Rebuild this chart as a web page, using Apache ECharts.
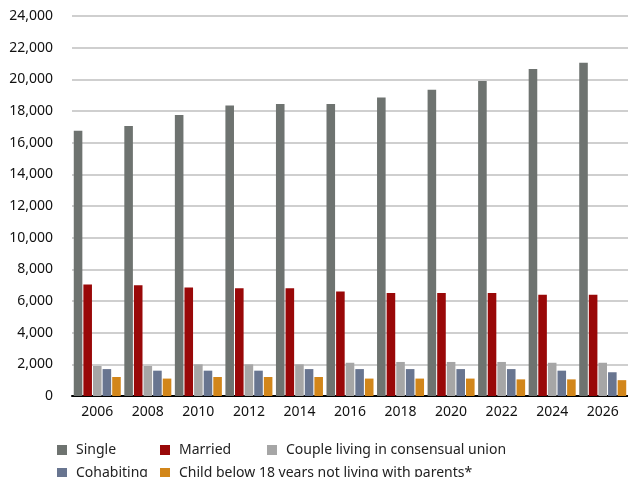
<!DOCTYPE html>
<html><head><meta charset="utf-8">
<script src="https://cdn.jsdelivr.net/npm/echarts@6/dist/echarts.min.js"></script>
<style>html,body{margin:0;padding:0;background:#fff}#c{width:628px;height:477px}</style>
</head><body><div id="c"></div>
<script>
const years = ['2006','2008','2010','2012','2014','2016','2018','2020','2022','2024','2026'];
const single = [16750,17050,17750,18350,18450,18450,18850,19350,19900,20650,21050];
const married = [7050,7000,6850,6800,6800,6600,6500,6500,6500,6400,6400];
const consensual = [1900,1900,2000,2000,2000,2100,2150,2150,2150,2100,2100];
const cohabiting = [1700,1600,1600,1600,1700,1700,1700,1700,1700,1600,1500];
const child = [1200,1100,1200,1200,1200,1100,1100,1100,1050,1050,1000];
const names = ['Single','Married','Couple living in consensual union','Cohabiting','Child below 18 years not living with parents*'];
const colors = ['#6e7370','#990808','#a6a6a6','#687590','#d2861a'];
const FONT = 'Noto Sans';
const seriesData = [single, married, consensual, cohabiting, child];
const legendPos = [[52,438],[155,438],[262,438],[52,461],[155,461]];
const chart = echarts.init(document.getElementById('c'));
chart.setOption({
  animation:false,
  color: colors,
  textStyle:{fontFamily:FONT},
  grid:{left:72,right:0,top:16,bottom:81},
  legend: names.map((n,i)=>({
    data:[n], left:legendPos[i][0], top:legendPos[i][1], icon:'rect',
    itemWidth:10,itemHeight:10,itemGap:8,
    textStyle:{fontSize:14,color:'#222',fontFamily:FONT,padding:[0,0,0,4]}
  })),
  xAxis:{type:'category',data:years,
    axisLine:{lineStyle:{color:'#000',width:2}},axisTick:{show:false},
    axisLabel:{fontSize:14,color:'#111',margin:9,fontFamily:FONT}},
  yAxis:{type:'value',min:0,max:24000,interval:2000,
    axisLine:{show:false},axisTick:{show:false},
    splitLine:{lineStyle:{color:'#bfbfbf',width:1.5}},
    axisLabel:{fontSize:14,color:'#111',margin:19,fontFamily:FONT,
      formatter:v=>v.toLocaleString('en-US')}},
  series: names.map((n,i)=>({
    name:n,type:'bar',data:seriesData[i],
    barGap:'12%',barCategoryGap:'7%'
  }))
});
</script></body></html>
